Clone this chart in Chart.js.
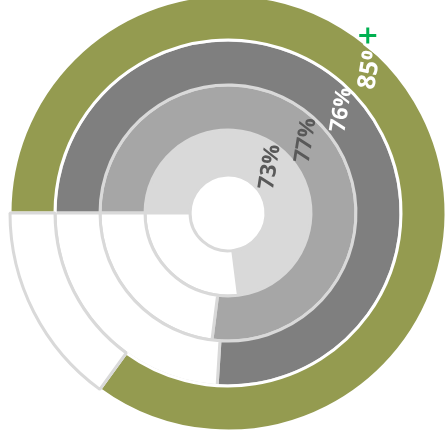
<!DOCTYPE html>
<html>
<head>
<meta charset="utf-8">
<script src="https://cdn.jsdelivr.net/npm/chart.js@4/dist/chart.umd.min.js"></script>
<style>
  html, body { margin: 0; padding: 0; background: #fff; overflow: hidden; width: 446px; height: 443px; }
  #wrap { position: absolute; left: 0; top: -15px; width: 456px; height: 456px; }
</style>
</head>
<body>
<div id="wrap"><canvas id="ringChart" width="456" height="456"></canvas></div>
<script>
// outer ring first
const rings = ["Ring 1", "Ring 2", "Ring 3", "Ring 4"];
const values = [85, 76, 77, 73];
const ringColors = ["#949b50", "#7f7f7f", "#a6a6a6", "#d9d9d9"];
const ringBorders = ["#ffffff", "#d9d9d9", "#d9d9d9", "#d9d9d9"];
const textColors = ["#ffffff", "#ffffff", "#595959", "#595959"];

function draw() {
  const ctx = document.getElementById("ringChart").getContext("2d");

  new Chart(ctx, {
    type: "doughnut",
    data: {
      labels: ["value", "rest"],
      datasets: values.map((v, i) => ({
        label: rings[i],
        data: [v, 100 - v],
        backgroundColor: [ringColors[i], "#ffffff"],
        borderColor: [ringBorders[i], "#d9d9d9"],
        borderWidth: 3,
      })),
    },
    options: {
      responsive: false,
      animation: false,
      radius: 218,
      cutout: "17.4%",
      rotation: -90,
      plugins: {
        legend: { display: false },
        tooltip: { enabled: false },
      },
    },
    plugins: [
      {
        id: "ringLabels",
        afterDatasetsDraw(chart) {
          const { ctx } = chart;
          const angles = [43.8, 47.8, 47, 42.5];
          const shift = [11, 3, 1, 2];
          const sizes = [25, 22, 22, 22];
          chart.data.datasets.forEach((ds, i) => {
            const arc = chart.getDatasetMeta(i).data[0];
            const r = (arc.innerRadius + arc.outerRadius) / 2 + shift[i];
            const a = (angles[i] - 90) * Math.PI / 180;
            ctx.save();
            ctx.translate(arc.x + r * Math.cos(a), arc.y + r * Math.sin(a));
            ctx.rotate(-81 * Math.PI / 180);
            ctx.font = "bold " + sizes[i] + "px 'Open Sans'";
            ctx.fillStyle = textColors[i];
            ctx.textAlign = "center";
            ctx.textBaseline = "middle";
            ctx.fillText(values[i] + "%", 0, 0);
            ctx.restore();
          });

          // small green plus beside the outer label
          const outer = chart.getDatasetMeta(0).data[0];
          const pa = (38.2 - 90) * Math.PI / 180;
          const px = outer.x + 226 * Math.cos(pa);
          const py = outer.y + 226 * Math.sin(pa);
          ctx.save();
          ctx.strokeStyle = "#00b050";
          ctx.lineWidth = 3;
          ctx.beginPath();
          ctx.moveTo(px - 8.5, py);
          ctx.lineTo(px + 8.5, py);
          ctx.moveTo(px, py - 8);
          ctx.lineTo(px, py + 8);
          ctx.stroke();
          ctx.restore();
        },
      },
    ],
  });
}

document.fonts.load("bold 20px 'Open Sans'").then(draw, draw);
</script>
</body>
</html>
